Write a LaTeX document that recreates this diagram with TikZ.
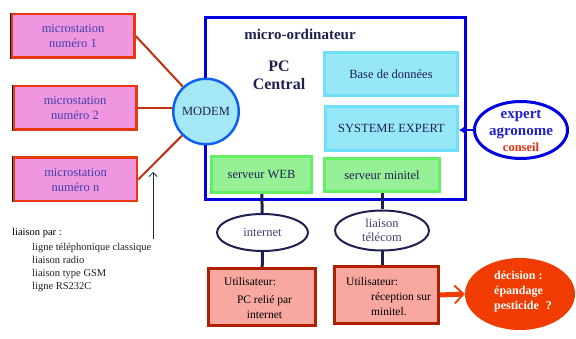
\documentclass[tikz,border=0pt]{standalone}
\usepackage{fontspec}
\setmainfont{Liberation Serif}
\usetikzlibrary{arrows.meta,positioning,shapes.geometric}

\definecolor{stfill}{RGB}{240,150,225}
\definecolor{stdraw}{RGB}{232,56,16}
\definecolor{sttext}{RGB}{64,64,168}
\definecolor{cadre}{RGB}{0,0,224}
\definecolor{modemfill}{RGB}{165,232,245}
\definecolor{modemdraw}{RGB}{16,96,240}
\definecolor{cyanfill}{RGB}{150,232,248}
\definecolor{cyandraw}{RGB}{112,224,248}
\definecolor{vertfill}{RGB}{150,240,150}
\definecolor{vertdraw}{RGB}{100,240,100}
\definecolor{marine}{RGB}{32,32,80}
\definecolor{gristexte}{RGB}{64,64,112}
\definecolor{saumon}{RGB}{248,168,160}
\definecolor{brique}{RGB}{176,32,0}
\definecolor{lienrouge}{RGB}{192,48,16}
\definecolor{orangedec}{RGB}{240,60,0}
\definecolor{bleuexp}{RGB}{32,32,208}
\definecolor{rougeconseil}{RGB}{232,48,16}

\begin{document}
\begin{tikzpicture}[
  x=1pt, y=-1pt,
  >=Latex,
  station/.style={draw=stdraw, line width=2.5pt, fill=stfill, text=sttext, align=center, inner sep=0pt, minimum width=123pt, minimum height=43.5pt, font=\fontsize{12.5}{15}\selectfont},
  module/.style={draw=cyandraw, line width=3pt, fill=cyanfill, text=marine, inner sep=0pt, font=\fontsize{12.5}{15}\selectfont},
  serveur/.style={draw=vertdraw, line width=3pt, fill=vertfill, text=marine, inner sep=0pt, font=\fontsize{12.5}{15}\selectfont},
  reseau/.style={ellipse, draw=marine, line width=2pt, fill=white, text=gristexte, align=center, inner sep=0pt, font=\fontsize{12.5}{14}\selectfont},
  usager/.style={draw=brique, line width=3pt, fill=saumon, inner sep=0pt},
  usagertxt/.style={font=\fontsize{11.5}{15}\selectfont, inner sep=0pt},
  lien/.style={draw=lienrouge, line width=2pt},
  fil/.style={draw=marine, line width=3pt}
]
  % fond
  \useasboundingbox (0,0) rectangle (576,339);

  % micro-ordinateur
  \node[draw=cadre, line width=3pt, minimum width=260pt, minimum height=182pt] (pc) at (335.5,108.5) {};
  \node[text=marine, font=\fontsize{15}{17}\bfseries] (titre) at (300,34) {micro-ordinateur};
  \node[text=marine, align=center, font=\fontsize{16}{18}\bfseries] (central) at (279,75) {PC\\Central};
  \node[module, minimum width=133pt, minimum height=43pt] (base) at (391,74) {Base de données};
  \node[module, minimum width=132pt, minimum height=44pt] (systeme) at (391.5,128.5) {SYSTEME EXPERT};
  \node[serveur, minimum width=100pt, minimum height=36pt] (web) at (261.5,174.5) {serveur WEB};
  \node[serveur, minimum width=115pt, minimum height=33pt] (minitel) at (382,175) {serveur minitel};

  % microstations
  \node[station] (m1) at (73,36) {microstation\\numéro 1};
  \node[station] (m2) at (75,108) {microstation\\numéro 2};
  \node[station] (m3) at (75.5,179.5) {microstation\\numéro n};
  \draw[black, line width=1.2pt] (m1.north west) -- (m1.south west);
  \draw[black, line width=1.2pt] (m2.north west) -- (m2.south west);
  \draw[black, line width=1.2pt] (m3.north west) -- (m3.south west);

  \node[circle, draw=modemdraw, line width=2.5pt, fill=modemfill, text=marine, minimum size=65.5pt, inner sep=0pt, font=\fontsize{12.5}{15}\selectfont] (modem) at (206,111.5) {MODEM};
  \draw[lien] (m1.east) -- (modem);
  \draw[lien] (m2.east) -- (m2.east -| modem.west);
  \draw[lien] (m3.east) -- (modem);

  % liaisons possibles
  \coordinate (piedfleche) at (153,239);
  \coordinate (boutfleche) at (153,172);
  \draw[-{Straight Barb[length=4pt,width=8pt]}, draw={rgb,255:red,16;green,48;blue,64}, line width=0.8pt] (piedfleche) -- (boutfleche);
  \node[anchor=west, inner sep=0pt, font=\fontsize{10.5}{12.7}\selectfont] (liaison) at (12,233) {liaison par :};
  \node[anchor=north west, align=left, inner sep=0pt, font=\fontsize{10.5}{12.7}\selectfont, text={rgb,255:red,32;green,32;blue,32}] (moyens) at (32,243.5) {ligne téléphonique classique\\liaison radio\\liaison type GSM\\ligne RS232C};

  % expert
  \node[ellipse, draw=cadre, line width=3pt, fill=white, minimum width=93pt, minimum height=57pt] (expert) at (521,130) {};
  \node[text=bleuexp, align=center, font=\fontsize{15}{17}\bfseries] (experttxt) at (521,124.5) {expert\\agronome};
  \node[text=rougeconseil, font=\fontsize{12.5}{14}\bfseries, inner sep=0pt] (conseil) at (521,147) {conseil};
  \draw[-{Latex[length=6pt,width=8pt]}, draw=cadre, line width=2.5pt] (expert.west) -- (expert.west -| systeme.east);

  % acces
  \node[reseau, minimum width=91pt, minimum height=37pt] (internet) at (262.5,232.5) {internet};
  \node[reseau, minimum width=94pt, minimum height=40pt] (telecom) at (382,230.5) {liaison\\télécom};
  \node[usager, minimum width=107pt, minimum height=57pt] (user1) at (262,297) {};
  \node[usager, minimum width=104pt, minimum height=57pt] (user2) at (386.5,295) {};
  \node[usagertxt, anchor=west] (u1titre) at (224,282) {Utilisateur:};
  \node[usagertxt, align=center] (u1txt) at (264.5,307.5) {PC relié par\\internet};
  \node[usagertxt, anchor=west] (u2titre) at (346,282) {Utilisateur:};
  \node[usagertxt, anchor=west, align=left] (u2txt) at (371,304.5) {réception sur\\minitel.};

  \draw[fil] (web) -- (internet);
  \draw[fil] (internet) -- (user1);
  \draw[fil] (minitel.south) -- (telecom.north);
  \draw[fil] (telecom.south) -- (telecom.south |- user2.north);

  % decision
  \node[ellipse, fill=orangedec, minimum width=110pt, minimum height=72pt] (decision) at (520,294) {};
  \node[anchor=west, align=left, text=white, inner sep=0pt, font=\fontsize{12}{15}\bfseries] (dectxt) at (494,292) {décision :\\épandage\\pesticide\hspace{7pt}?};
  \draw[-{Straight Barb[length=9pt,width=18pt,line width=1.8pt]}, draw=orangedec, line width=5pt] (user2.east) -- (decision.west);
\end{tikzpicture}
\end{document}
